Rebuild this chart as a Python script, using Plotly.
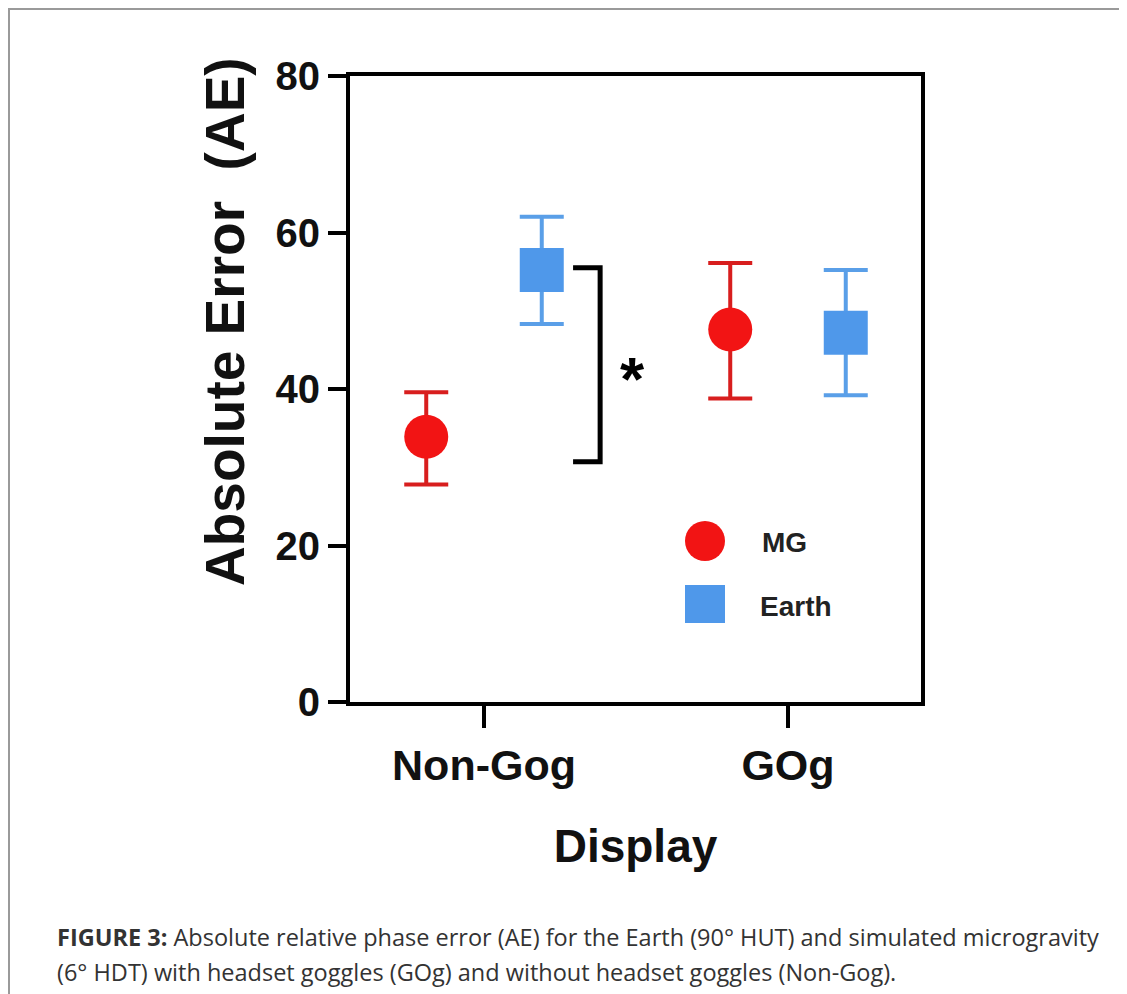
import plotly.graph_objects as go

# ---- data ----
categories = ["Non-Gog", "GOg"]
series_names = ["MG", "Earth"]
mg_mean = [33.9, 47.6]
mg_upper = [39.6, 56.1]
mg_lower = [27.8, 38.8]
earth_mean = [55.2, 47.2]
earth_upper = [62.0, 55.2]
earth_lower = [48.3, 39.2]
sig_bracket = [30.7, 55.5]   # y-range of significance bracket (Non-Gog)
sig_label = "*"
y_ticks = [0, 20, 40, 60, 80]

RED = "#f21414"
RED_ERR = "#d81e1e"
BLUE = "#4f98ea"
BLUE_ERR = "#5a9fe8"
FONT = "Liberation Sans, Arial, sans-serif"

cat_pos = list(range(len(categories)))
offset = 0.19

fig = go.Figure()

def add_series(name, means, up, lo, color, ecolor, symbol, dx):
    xs = [p + dx for p in cat_pos]
    fig.add_trace(go.Scatter(
        x=xs, y=means, mode="markers", name=name, showlegend=False,
        marker=dict(symbol=symbol, size=44, color=color, line=dict(width=0)),
        error_y=dict(type="data", symmetric=False,
                     array=[u - m for u, m in zip(up, means)],
                     arrayminus=[m - l for m, l in zip(means, lo)],
                     color=ecolor, thickness=4, width=22),
    ))

add_series(series_names[0], mg_mean, mg_upper, mg_lower, RED, RED_ERR, "circle", -offset)
add_series(series_names[1], earth_mean, earth_upper, earth_lower, BLUE, BLUE_ERR, "square", offset)

# significance bracket
bx = cat_pos[0] + 0.382
bl = cat_pos[0] + 0.293
fig.add_shape(type="path",
              path=f"M {bl},{sig_bracket[1]} L {bx},{sig_bracket[1]} L {bx},{sig_bracket[0]} L {bl},{sig_bracket[0]}",
              xref="x", yref="y", line=dict(color="black", width=5))
fig.add_annotation(x=cat_pos[0] + 0.49, y=(sig_bracket[0] + sig_bracket[1]) / 2,
                   text=f"<b>{sig_label}</b>", showarrow=False,
                   font=dict(family=FONT, size=62, color="black"),
                   xanchor="center", yanchor="middle", yshift=-14)

# page-pixel -> paper helpers (plot area spans page x 350..921, y 76..702)
W, H = 571.0, 626.0
def px(xp): return (xp - 350) / W
def py(yp): return (702 - yp) / H

# manual legend (large symbols)
fig.add_shape(type="circle", xref="paper", yref="paper",
              xsizemode="pixel", ysizemode="pixel",
              xanchor=px(705), yanchor=py(541), x0=-20, x1=20, y0=-20, y1=20,
              fillcolor=RED, line=dict(width=0))
fig.add_shape(type="rect", xref="paper", yref="paper",
              xsizemode="pixel", ysizemode="pixel",
              xanchor=px(705), yanchor=py(604), x0=-20, x1=20, y0=-19, y1=19,
              fillcolor=BLUE, line=dict(width=0))
fig.add_annotation(x=px(760), y=py(542), xref="paper", yref="paper", text=f"<b>{series_names[0]}</b>",
                   showarrow=False, xanchor="left", yanchor="middle",
                   font=dict(family=FONT, size=28, color="#222"))
fig.add_annotation(x=px(758), y=py(606), xref="paper", yref="paper", text=f"<b>{series_names[1]}</b>",
                   showarrow=False, xanchor="left", yanchor="middle",
                   font=dict(family=FONT, size=28, color="#222"))

# y axis title
fig.add_annotation(x=px(225), y=py(322), xref="paper", yref="paper",
                   text="<b>Absolute Error\u00a0\u00a0(AE)</b>", textangle=-90, showarrow=False,
                   xanchor="center", yanchor="middle",
                   font=dict(family=FONT, size=55, color="#111"))

# caption
fig.add_annotation(x=px(55), y=py(937), xref="paper", yref="paper",
                   text="<b>FIGURE 3:</b> Absolute relative phase error (AE) for the Earth (90° HUT) and simulated microgravity",
                   showarrow=False, xanchor="left", yanchor="middle",
                   font=dict(family="Open Sans, sans-serif", size=23.5, color="#333"))
fig.add_annotation(x=px(55), y=py(972), xref="paper", yref="paper",
                   text="(6° HDT) with headset goggles (GOg) and without headset goggles (Non-Gog).",
                   showarrow=False, xanchor="left", yanchor="middle",
                   font=dict(family="Open Sans, sans-serif", size=23.5, color="#333"))

# outer frame
fig.add_shape(type="path", xref="paper", yref="paper",
              path=f"M {px(9)},{py(1000)} L {px(9)},{py(9)} L {px(1130)},{py(9)}",
              line=dict(color="#9a9a9a", width=2))

fig.update_xaxes(range=[-0.4408, 1.4375], tickvals=cat_pos, ticktext=categories,
                 ticks="outside", ticklen=22, tickwidth=4, tickcolor="black",
                 showline=True, linewidth=4, linecolor="black", mirror=True,
                 showgrid=False, zeroline=False,
                 tickfont=dict(family=FONT, size=43, color="#111", weight="bold"),
                 title=dict(text="<b>Display</b>", font=dict(family=FONT, size=46, color="#111"), standoff=43))
fig.update_yaxes(range=[0, 80], tickvals=y_ticks,
                 ticks="outside", ticklen=18, tickwidth=4, tickcolor="black",
                 showline=True, linewidth=4, linecolor="black", mirror=True,
                 showgrid=False, zeroline=False,
                 tickfont=dict(family=FONT, size=40, color="#111", weight="bold"))

# page has an 8px body margin: figure origin is at page (8, 8)
fig.update_layout(width=1119, height=986, margin=dict(l=342, r=206, t=68, b=292),
                  plot_bgcolor="white", paper_bgcolor="white", showlegend=False)

fig.write_html("out.html")
